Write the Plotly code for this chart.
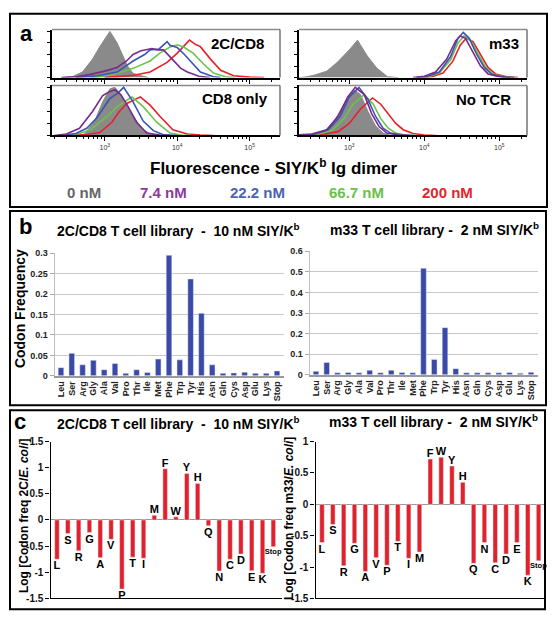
import plotly.graph_objects as go

# ---------------- data ----------------
# Panel a: histogram outlines, x = log10(fluorescence), y = relative count (0..1)
tl_gray_x = [2.4, 2.55, 2.69, 2.83, 2.93, 3.03, 3.07, 3.17, 3.25, 3.31, 3.39, 3.49, 3.6]
tl_gray_y = [0, 0.02, 0.12, 0.4, 0.67, 0.9, 1.0, 0.75, 0.47, 0.26, 0.09, 0.04, 0]
tl_purple_x = [2.4, 2.6, 2.8, 3.0, 3.17, 3.3, 3.39, 3.5, 3.65, 3.72, 3.81, 3.9, 3.94, 4.05, 4.14, 4.3, 4.45]
tl_purple_y = [0, 0.02, 0.07, 0.14, 0.22, 0.36, 0.5, 0.58, 0.63, 0.6, 0.6, 0.45, 0.36, 0.2, 0.12, 0.03, 0]
tl_blue_x = [2.6, 2.9, 3.17, 3.39, 3.55, 3.625, 3.75, 3.86, 3.9, 4.0, 4.1, 4.18, 4.32, 4.5, 4.6]
tl_blue_y = [0, 0.04, 0.12, 0.36, 0.5, 0.6, 0.62, 0.78, 0.7, 0.65, 0.5, 0.36, 0.12, 0.02, 0]
tl_green_x = [2.8, 3.1, 3.39, 3.625, 3.76, 3.9, 4.01, 4.1, 4.22, 4.36, 4.5, 4.69, 4.8]
tl_green_y = [0, 0.06, 0.2, 0.36, 0.53, 0.66, 0.71, 0.65, 0.53, 0.3, 0.1, 0.01, 0]
tl_red_x = [3.0, 3.17, 3.4, 3.625, 3.86, 4.0, 4.1, 4.17, 4.25, 4.32, 4.46, 4.6, 4.78, 5.0, 5.2]
tl_red_y = [0, 0.02, 0.05, 0.12, 0.33, 0.53, 0.7, 0.81, 0.72, 0.67, 0.4, 0.16, 0.04, 0.01, 0]

tr_gray_x = [2.3, 2.4, 2.53, 2.7, 2.84, 3.0, 3.11, 3.24, 3.37, 3.51, 3.65]
tr_gray_y = [0, 0.01, 0.05, 0.14, 0.33, 0.6, 0.81, 0.47, 0.2, 0.02, 0]
tr_purple_x = [3.85, 4.0, 4.15, 4.3, 4.42, 4.48, 4.55, 4.65, 4.75, 4.85, 5.0, 5.15]
tr_purple_y = [0, 0.03, 0.12, 0.4, 0.8, 0.9, 0.85, 0.55, 0.25, 0.08, 0.02, 0]
tr_blue_x = [3.9, 4.05, 4.2, 4.35, 4.45, 4.52, 4.6, 4.7, 4.8, 4.9, 5.05, 5.2]
tr_blue_y = [0, 0.03, 0.12, 0.45, 0.85, 0.98, 0.85, 0.5, 0.22, 0.07, 0.01, 0]
tr_green_x = [3.9, 4.05, 4.2, 4.35, 4.45, 4.53, 4.62, 4.72, 4.82, 4.92, 5.05, 5.2]
tr_green_y = [0, 0.02, 0.1, 0.38, 0.75, 0.9, 0.8, 0.5, 0.22, 0.08, 0.02, 0]
tr_red_x = [3.95, 4.1, 4.25, 4.38, 4.48, 4.56, 4.65, 4.75, 4.85, 4.95, 5.1, 5.25]
tr_red_y = [0, 0.02, 0.1, 0.35, 0.7, 0.85, 0.78, 0.5, 0.22, 0.08, 0.02, 0]

bl_gray_x = [2.6, 2.72, 2.86, 2.97, 3.07, 3.14, 3.24, 3.35, 3.44, 3.53, 3.62, 3.75]
bl_gray_y = [0, 0.03, 0.3, 0.7, 0.97, 1.0, 0.8, 0.5, 0.3, 0.12, 0.04, 0]
bl_purple_x = [2.3, 2.47, 2.65, 2.83, 2.97, 3.05, 3.14, 3.22, 3.31, 3.44, 3.58, 3.76, 3.9]
bl_purple_y = [0, 0.03, 0.15, 0.5, 0.83, 0.9, 0.95, 0.85, 0.63, 0.27, 0.05, 0.01, 0]
bl_blue_x = [2.4, 2.6, 2.75, 2.89, 3.07, 3.18, 3.26, 3.39, 3.53, 3.67, 3.8, 4.0]
bl_blue_y = [0, 0.04, 0.15, 0.37, 0.77, 0.88, 1.0, 0.7, 0.3, 0.1, 0.02, 0]
bl_green_x = [2.45, 2.65, 2.8, 2.93, 3.05, 3.17, 3.375, 3.53, 3.72, 3.9, 4.05, 4.2]
bl_green_y = [0, 0.04, 0.12, 0.27, 0.42, 0.6, 0.8, 0.6, 0.27, 0.05, 0.01, 0]
bl_red_x = [2.5, 2.75, 2.93, 3.1, 3.2, 3.31, 3.42, 3.49, 3.625, 3.76, 3.94, 4.14, 4.32, 4.5]
bl_red_y = [0, 0.02, 0.06, 0.28, 0.5, 0.67, 0.75, 0.8, 0.63, 0.4, 0.12, 0.03, 0.01, 0]

br_gray_x = [2.5, 2.65, 2.8, 2.95, 3.07, 3.15, 3.25, 3.35, 3.45, 3.55]
br_gray_y = [0, 0.05, 0.3, 0.7, 0.95, 0.85, 0.5, 0.2, 0.05, 0]
br_purple_x = [2.3, 2.5, 2.7, 2.85, 2.98, 3.08, 3.2, 3.3, 3.4, 3.5, 3.65, 3.8]
br_purple_y = [0.01, 0.03, 0.12, 0.4, 0.8, 1.0, 0.85, 0.45, 0.18, 0.05, 0.01, 0]
br_blue_x = [2.35, 2.55, 2.72, 2.88, 3.0, 3.13, 3.25, 3.35, 3.45, 3.55, 3.7, 3.85]
br_blue_y = [0, 0.03, 0.12, 0.4, 0.8, 1.0, 0.75, 0.4, 0.15, 0.05, 0.01, 0]
br_green_x = [2.4, 2.6, 2.78, 2.93, 3.05, 3.2, 3.32, 3.42, 3.52, 3.62, 3.75, 3.9]
br_green_y = [0, 0.03, 0.12, 0.35, 0.65, 0.85, 0.65, 0.35, 0.15, 0.05, 0.01, 0]
br_red_x = [2.4, 2.65, 2.85, 3.0, 3.15, 3.31, 3.42, 3.52, 3.62, 3.72, 3.85, 4.0, 4.15]
br_red_y = [0, 0.02, 0.08, 0.25, 0.55, 0.78, 0.65, 0.45, 0.25, 0.12, 0.04, 0.01, 0]

conc_labels = ["0 nM", "7.4 nM", "22.2 nM", "66.7 nM", "200 nM"]
a_tick_exp = [3, 4, 5]

# Panel b: codon frequencies
b_codons = ["Leu", "Ser", "Arg", "Gly", "Ala", "Val", "Pro", "Thr", "Ile", "Met", "Phe",
            "Trp", "Tyr", "His", "Asn", "Gln", "Cys", "Asp", "Glu", "Lys", "Stop"]
b_2c_freq = [0.02, 0.055, 0.027, 0.038, 0.015, 0.03, 0.006, 0.015, 0.008, 0.041, 0.295,
             0.039, 0.237, 0.153, 0.027, 0.006, 0.007, 0.009, 0.006, 0.006, 0.012]
b_m33_freq = [0.017, 0.06, 0.01, 0.011, 0.01, 0.022, 0.01, 0.022, 0.011, 0.01, 0.517,
              0.075, 0.229, 0.03, 0.01, 0.01, 0.01, 0.01, 0.011, 0.008, 0.012]

# Panel c: log ratio to E. coli codon frequency
c_letters = ["L", "S", "R", "G", "A", "V", "P", "T", "I", "M", "F", "W", "Y", "H",
             "Q", "N", "C", "D", "E", "K", "Stop"]
c_2c_log = [-0.75, -0.26, -0.59, -0.24, -0.72, -0.37, -1.32, -0.71, -0.73, 0.09, 0.98,
            0.06, 0.89, 0.70, -0.11, -0.975, -0.75, -0.65, -0.97, -1.02, -0.51]
c_m33_log = [-0.61, -0.32, -0.98, -0.62, -1.07, -0.85, -0.97, -0.59, -0.86, -0.76, 0.72,
             0.75, 0.61, 0.35, -0.94, -0.61, -0.93, -0.79, -0.61, -1.13, -0.9]
c_left_ticks = [1.5, 1, 0.5, 0, -0.5, -1, -1.5]
c_right_ticks = [1, 0.5, 0, -0.5, -1, -1.5]

# ---------------- styling ----------------
W, H = 557, 629
FONT = "Liberation Sans, Arial, sans-serif"
GRAY = "#8a8a8a"
PURPLE = "#7a2a8c"
BLUE = "#3a55b0"
GREEN = "#6cc24a"
RED = "#e8202a"
BAR_BLUE = "#3a4aa6"
BAR_RED = "#e1212b"
CONC_COLORS = ["#666666", "#8e3a9c", "#4a63b5", "#6cbf4b", "#e3262e"]


def dx(x0, x1):
    return [x0 / W, x1 / W]


def dy(y0, y1):
    return [1 - y1 / H, 1 - y0 / H]


fig = go.Figure()

panels = [
    ("x", "y", tl_gray_x, tl_gray_y, [(tl_red_x, tl_red_y, RED), (tl_green_x, tl_green_y, GREEN),
                                      (tl_blue_x, tl_blue_y, BLUE), (tl_purple_x, tl_purple_y, PURPLE)]),
    ("x2", "y2", tr_gray_x, tr_gray_y, [(tr_red_x, tr_red_y, RED), (tr_green_x, tr_green_y, GREEN),
                                        (tr_blue_x, tr_blue_y, BLUE), (tr_purple_x, tr_purple_y, PURPLE)]),
    ("x3", "y3", bl_gray_x, bl_gray_y, [(bl_red_x, bl_red_y, RED), (bl_green_x, bl_green_y, GREEN),
                                        (bl_blue_x, bl_blue_y, BLUE), (bl_purple_x, bl_purple_y, PURPLE)]),
    ("x4", "y4", br_gray_x, br_gray_y, [(br_red_x, br_red_y, RED), (br_green_x, br_green_y, GREEN),
                                        (br_blue_x, br_blue_y, BLUE), (br_purple_x, br_purple_y, PURPLE)]),
]
for xa, ya, gx, gy, lines in panels:
    fig.add_trace(go.Scatter(x=[10 ** v for v in gx], y=gy, mode="lines", fill="tozeroy",
                             fillcolor=GRAY, line=dict(color=GRAY, width=1),
                             xaxis=xa, yaxis=ya, hoverinfo="skip"))
    for lx, ly, col in lines:
        fig.add_trace(go.Scatter(x=[10 ** v for v in lx], y=ly, mode="lines",
                                 line=dict(color=col, width=1.6),
                                 xaxis=xa, yaxis=ya, hoverinfo="skip"))

# panel b bars
fig.add_trace(go.Bar(x=b_codons, y=b_2c_freq, marker_color=BAR_BLUE, width=0.52,
                     xaxis="x5", yaxis="y5"))
fig.add_trace(go.Bar(x=b_codons, y=b_m33_freq, marker_color=BAR_BLUE, width=0.52,
                     xaxis="x6", yaxis="y6"))

# panel c bars
sizes = [11 if t != "Stop" else 7.5 for t in c_letters]
for xa, ya, vals in [("x7", "y7", c_2c_log), ("x8", "y8", c_m33_log)]:
    fig.add_trace(go.Bar(x=c_letters, y=vals, marker_color=BAR_RED, width=0.42,
                         text=[f"<b>{t}</b>" for t in c_letters], textposition="outside",
                         textangle=0, constraintext="none", cliponaxis=False,
                         textfont=dict(family=FONT, size=sizes, color="black"),
                         xaxis=xa, yaxis=ya))

layout = dict(
    width=W, height=H, margin=dict(l=0, r=0, t=0, b=0),
    paper_bgcolor="white", plot_bgcolor="white", showlegend=False,
    font=dict(family=FONT, color="black"),
)

hist_axes = [("xaxis", "yaxis", "y", (52, 280), (24, 73), [2.27, 5.42], False),
             ("xaxis2", "yaxis2", "y2", (299, 527), (24, 73), [2.33, 5.37], False),
             ("xaxis3", "yaxis3", "y3", (52, 280), (81, 132), [2.27, 5.42], True),
             ("xaxis4", "yaxis4", "y4", (299, 527), (81, 132), [2.33, 5.37], True)]
for i, (xk, yk, yref, xr, yr, rng, labels) in enumerate(hist_axes):
    xname = "x" if i == 0 else f"x{i + 1}"
    layout[xk] = dict(domain=dx(*xr), anchor=yref, type="log", range=rng,
                      tickvals=[10 ** e for e in a_tick_exp],
                      ticktext=[f"10<sup>{e}</sup>" for e in a_tick_exp],
                      showticklabels=labels, tickfont=dict(size=7, color="#333333"),
                      ticks="outside", ticklen=4, tickwidth=1, tickcolor="black",
                      minor=dict(ticks="outside", ticklen=2, tickcolor="black", dtick="D1"),
                      showline=True, mirror=False, linecolor="black", linewidth=2,
                      showgrid=False, zeroline=False, fixedrange=True)
    layout[yk] = dict(domain=dy(*yr), anchor=xname, range=[0, 1.04],
                      showticklabels=False, ticks="outside", ticklen=3, dtick=0.25,
                      tickcolor="black",
                      showline=True, mirror=False, linecolor="black", linewidth=1.6,
                      showgrid=False, zeroline=False, fixedrange=True)
    # lighter top and right frame edges
    fig.add_shape(type="line", xref=f"{xname} domain", yref=f"{yref.replace('y', 'y')} domain",
                  x0=0, x1=1, y0=1, y1=1, line=dict(color="#8c8c8c", width=1.4))
    fig.add_shape(type="line", xref=f"{xname} domain", yref=f"{yref} domain",
                  x0=1, x1=1, y0=0, y1=1, line=dict(color="#6c6c6c", width=1.4))

tick_b = dict(family=FONT, size=9, color="#222222", weight="bold")
tick_bx = dict(family=FONT, size=9, color="#222222", weight="bold")
layout["xaxis5"] = dict(domain=dx(54.5, 283.5), anchor="y5", type="category",
                        range=[-0.6, 20.6], tickangle=-90, tickfont=tick_bx,
                        tickmode="array", tickvals=b_codons, ticktext=b_codons,
                        showline=True, linecolor="#9a9a9a", linewidth=1.5,
                        showgrid=False, ticks="")
layout["yaxis5"] = dict(domain=dy(252, 377), anchor="x5", range=[0, 0.3], dtick=0.05,
                        tickfont=tick_b, gridcolor="#c8c8c8", gridwidth=1,
                        ticks="outside", ticklen=4, tickcolor="#aaaaaa",
                        showline=True, linecolor="#c0c0c0", linewidth=1, zeroline=False)
layout["xaxis6"] = dict(domain=dx(309.5, 537.5), anchor="y6", type="category",
                        range=[-0.6, 20.6], tickangle=-90, tickfont=tick_bx,
                        tickmode="array", tickvals=b_codons, ticktext=b_codons,
                        showline=True, linecolor="#9a9a9a", linewidth=1.5,
                        showgrid=False, ticks="")
layout["yaxis6"] = dict(domain=dy(250, 376), anchor="x6", range=[0, 0.6], dtick=0.1,
                        tickfont=tick_b, gridcolor="#c8c8c8", gridwidth=1,
                        ticks="outside", ticklen=4, tickcolor="#aaaaaa",
                        showline=True, linecolor="#c0c0c0", linewidth=1, zeroline=False)

tick_c = dict(family=FONT, size=10, color="#111111", weight="bold")
layout["xaxis7"] = dict(domain=dx(50.5, 282), anchor="y7", type="category",
                        range=[-0.6, 20.8], showticklabels=False, ticks="",
                        showline=True, linecolor="black", linewidth=1.3, showgrid=False)
layout["yaxis7"] = dict(domain=dy(444, 604), anchor="x7", range=[-1.5, 1.5],
                        tickvals=c_left_ticks, ticktext=[f"{v:g}" for v in c_left_ticks],
                        tickfont=tick_c, ticks="outside", ticklen=4, tickcolor="black",
                        showline=True, linecolor="black", linewidth=1.3, showgrid=False,
                        zeroline=True, zerolinecolor="#999999", zerolinewidth=1)
layout["xaxis8"] = dict(domain=dx(315.5, 544), anchor="y8", type="category",
                        range=[-0.6, 20.5], showticklabels=False, ticks="",
                        showline=True, linecolor="black", linewidth=1.3, showgrid=False)
layout["yaxis8"] = dict(domain=dy(444, 604), anchor="x8", range=[-1.5, 1.0],
                        tickvals=c_right_ticks, ticktext=[f"{v:g}" for v in c_right_ticks],
                        tickfont=tick_c, ticks="outside", ticklen=4, tickcolor="black",
                        showline=True, linecolor="black", linewidth=1.3, showgrid=False,
                        zeroline=True, zerolinecolor="#999999", zerolinewidth=1)

fig.update_layout(**layout)

# boxes
for x0, y0, x1, y1 in [(10, 8, 547, 205), (10, 209, 546, 407), (10, 412, 545, 615)]:
    fig.add_shape(type="rect", xref="paper", yref="paper",
                  x0=x0 / W, x1=x1 / W, y0=1 - y1 / H, y1=1 - y0 / H,
                  line=dict(color="black", width=2), fillcolor="rgba(0,0,0,0)")


def ann(text, x, y, size, color="black", angle=0, xanchor="center"):
    fig.add_annotation(text=text, x=x / W, y=1 - y / H, xref="paper", yref="paper",
                       showarrow=False, textangle=angle, xanchor=xanchor, yanchor="middle",
                       font=dict(family=FONT, size=size, color=color))


ann("<b>a</b>", 26, 28, 22)
ann("<b>b</b>", 25, 225, 22)
ann("<b>c</b>", 20, 424, 22)

ann("<b>2C/CD8</b>", 237, 38, 15)
ann("<b>CD8 only</b>", 235, 94, 15)
ann("<b>m33</b>", 504, 38, 15)
ann("<b>No TCR</b>", 483, 95, 15)
ann("<b>Fluorescence - SIY/K<sup>b</sup> Ig dimer</b>", 274, 164, 17)
for lbl, cx, col in zip(conc_labels, [84, 163, 257, 356, 447], CONC_COLORS):
    ann(f"<b>{lbl}</b>", cx, 190, 15, col)

ann("<b>2C/CD8 T cell library  -  10 nM SIY/K<sup>b</sup></b>", 178, 228, 14)
ann("<b>m33 T cell library -  2 nM SIY/K<sup>b</sup></b>", 434, 227, 14)
ann("<b>Codon Frequency</b>", 20, 309, 14, angle=-90)

ann("<b>2C/CD8 T cell library  -  10 nM SIY/K<sup>b</sup></b>", 178, 425, 14)
ann("<b>m33 T cell library -  2 nM SIY/K<sup>b</sup></b>", 433, 423, 14)
ann("<b>Log [Codon freq 2C/<i>E. coli</i>]</b>", 24, 520, 12, angle=-90)
ann("<b>Log [Codon freq m33/<i>E. coli</i>]</b>", 289, 522, 12, angle=-90)

fig.write_html("out.html", config={"displayModeBar": False},
               post_script="document.body.style.margin='0px';document.body.style.overflow='hidden';")
